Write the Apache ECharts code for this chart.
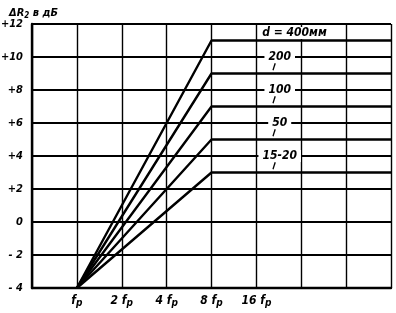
<!DOCTYPE html>
<html><head><meta charset="utf-8">
<script src="https://cdn.jsdelivr.net/npm/echarts@6/dist/echarts.min.js"></script>
<style>html,body{margin:0;padding:0;background:#fff}#c{width:396px;height:313px}</style>
</head><body><div id="c"></div>
<script>
// x positions are octaves above fp (log2 of f/fp)
const xTickLabels = {0:'f{s|p}', 1:'2 f{s|p}', 2:'4 f{s|p}', 3:'8 f{s|p}', 4:'16 f{s|p}'};
const yTicks = [-4,-2,0,2,4,6,8,10,12];
const curveNames = ['d = 400мм','200','100','50','15-20'];
const startX = 0, startLevel = -4;
const kneeX = 3;
const endX = 7;
const plateauLevels = [11, 9, 7, 5, 3];

const FONT = 'DejaVu Sans Condensed';
const chart = echarts.init(document.getElementById('c'), null, {renderer:'canvas'});

const lineSeries = plateauLevels.map((lv, i) => ({
  type:'line', name: curveNames[i], symbol:'none', silent:true,
  lineStyle:{color:'#000', width:2.4},
  data:[[startX,startLevel],[kneeX,lv],[endX,lv]],
  z:3,
  markLine: i === 0 ? undefined : {
    silent:true, symbol:'none', label:{show:false}, z:10,
    lineStyle:{color:'#000', width:1.3, type:'solid'},
    data:[[{coord:[4.37, lv+0.2]},{coord:[4.42, lv+0.62]}]]
  }
}));

const labelSeries = {
  type:'scatter', symbolSize:0, silent:true, z:5,
  itemStyle:{opacity:1, color:'#000'},
  data: plateauLevels.map((lv, i) => ({
    value: i === 0 ? [4.85, lv+0.45] : [4.52, lv+1],
    name: curveNames[i]
  })),
  label:{show:true, position:'inside', formatter:p=>p.name, color:'#000',
    fontFamily:FONT, fontStyle:'italic', fontWeight:'bold', fontSize:12, lineHeight:12,
    backgroundColor:'#fff', padding:[0,4]}
};

chart.setOption({
  animation:false,
  backgroundColor:'#fff',
  title:{text:'ΔR{s|2} в дБ', left:4, top:1,
    textStyle:{fontFamily:FONT, fontStyle:'italic', fontWeight:'bold', fontSize:11, color:'#000',
      rich:{s:{fontSize:8, fontStyle:'italic', fontWeight:'bold', fontFamily:FONT, verticalAlign:'bottom', padding:[6,0,0,0]}}}},
  grid:{left:32, right:5, top:24, bottom:25, outerBoundsMode:'none', containLabel:false},
  xAxis:{type:'value', min:-1, max:7, interval:1,
    axisLine:{show:true, onZero:false, lineStyle:{color:'#000', width:2.4}},
    axisTick:{show:false},
    axisLabel:{margin:5, color:'#000', fontFamily:FONT, fontStyle:'italic', fontWeight:'bold', fontSize:12,
      formatter:v=>xTickLabels[v] || '',
      rich:{s:{fontFamily:FONT, fontStyle:'italic', fontWeight:'bold', fontSize:10, padding:[5,0,0,0]}}},
    splitLine:{show:true, lineStyle:{color:'#000', width:1.4}}
  },
  yAxis:{type:'value', min:-4, max:12, interval:2,
    axisLine:{show:true, onZero:false, lineStyle:{color:'#000', width:2.4}},
    axisTick:{show:false},
    axisLabel:{margin:9, color:'#000', fontFamily:FONT, fontStyle:'italic', fontWeight:'bold', fontSize:11,
      formatter:v=>v>0?'+'+v:(v<0?'- '+(-v):'0')},
    splitLine:{show:true, lineStyle:{color:'#000', width:2.2}}
  },
  series:[...lineSeries, labelSeries]
});
</script></body></html>
